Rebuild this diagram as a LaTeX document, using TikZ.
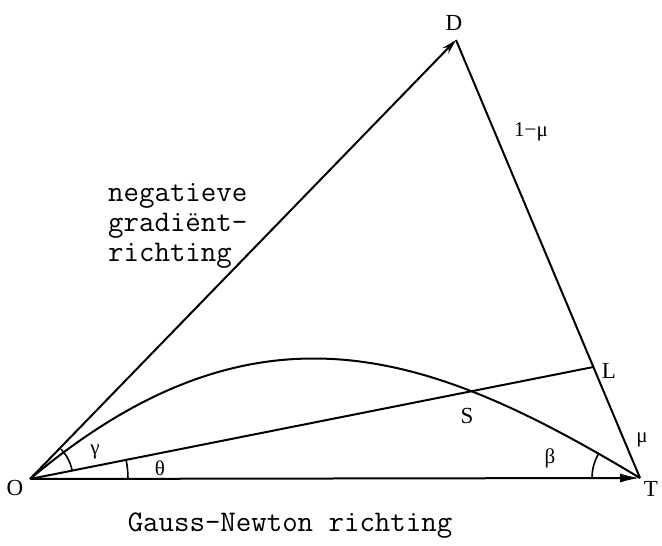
\documentclass[tikz,border=0pt]{standalone}
\usepackage{fontspec}
\setmainfont{Liberation Serif}
\usetikzlibrary{arrows.meta,angles,calc}
\begin{document}
\begin{tikzpicture}[x=1pt,y=1pt,
  edge/.style={line width=2pt},
  lbl/.style={inner sep=0pt, font=\fontsize{23}{27}\selectfont},
  glbl/.style={inner sep=0pt, font=\fontsize{21}{25}\selectfont},
  tt/.style={inner sep=0pt, font=\ttfamily\fontsize{30}{30}\selectfont},
  ang/.style={draw, line width=1.6pt}]
\useasboundingbox (0,0) rectangle (662,546);
\coordinate (O) at (30,67);
\coordinate (T) at (640,68);
\coordinate (D) at (456,506);
\coordinate (L) at ($(D)!0.7466!(T)$);
\coordinate (S) at (468,154);
\coordinate (c1) at (259.8,259.9);
\coordinate (c2) at (434.3,191.6);
\coordinate (G) at ($(O)+(44:50pt)$);
\coordinate (Q) at ($(T)+(149:50pt)$);

\draw[edge, -{Stealth[length=15pt,width=8pt]}] (O) -- (D);
\draw[edge] (D) -- (T);
\draw[edge, -{Latex[length=20pt,width=9pt]}] (O) -- (T);
\draw[edge] (O) -- (L);
\draw[edge] (O) .. controls (c1) and (c2) .. (T);
\pic[ang, angle radius=43pt] {angle=L--O--G};
\pic[ang, angle radius=98pt] {angle=T--O--L};
\pic[ang, angle radius=48pt] {angle=Q--T--O};

\node[lbl] (lO) at (15,58) {O};
\node[lbl] (lT) at (651,57) {T};
\node[lbl] (lD) at (454,523) {D};
\node[lbl] (lL) at (609,175) {L};
\node[lbl] (lS) at (467,130) {S};
\node[glbl] (lmu1) at (531,414) {1−μ};
\node[glbl] (lmu) at (642,106) {μ};
\node[glbl] (lgam) at (95,94) {γ};
\node[glbl] (lth) at (160,78) {θ};
\node[glbl] (lbe) at (550,88) {β};

\node[tt, anchor=base west] (n1) at (108,344) {negatieve};
\node[tt, anchor=base west] (n2) at (108,314) {gradiënt-};
\node[tt, anchor=base west] (n3) at (108,284) {richting};
\node[tt, anchor=base] (gn) at (290,14) {Gauss-Newton richting};
\end{tikzpicture}
\end{document}
